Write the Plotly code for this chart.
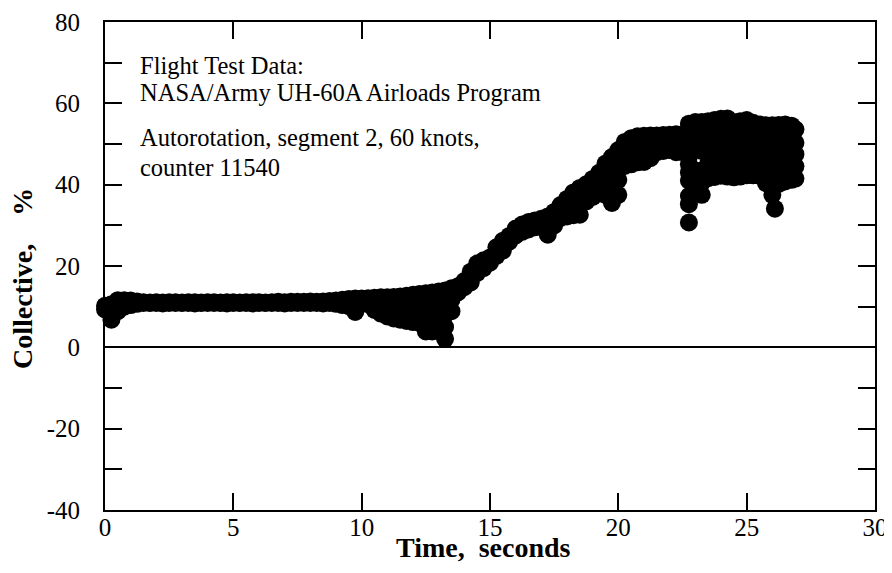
import plotly.graph_objects as go

# ---------------- data ----------------
time_s = [
    0.0, 0.25, 0.5, 0.75, 1.0, 1.25, 1.5, 1.75,
    2.0, 2.25, 2.5, 2.75, 3.0, 3.25, 3.5, 3.75,
    4.0, 4.25, 4.5, 4.75, 5.0, 5.25, 5.5, 5.75,
    6.0, 6.25, 6.5, 6.75, 7.0, 7.25, 7.5, 7.75,
    8.0, 8.25, 8.5, 8.75, 9.0, 9.25, 9.5, 9.75,
    10.0, 10.25, 10.5, 10.75, 11.0, 11.25, 11.5, 11.75,
    12.0, 12.25, 12.5, 12.75, 13.0, 13.25, 13.5, 13.75,
    14.0, 14.25, 14.5, 14.75, 15.0, 15.25, 15.5, 15.75,
    16.0, 16.25, 16.5, 16.75, 17.0, 17.25, 17.5, 17.75,
    18.0, 18.25, 18.5, 18.75, 19.0, 19.25, 19.5, 19.75,
    20.0, 20.25, 20.5, 20.75, 21.0, 21.25, 21.5, 21.75,
    22.0, 22.25, 22.5, 22.75, 23.0, 23.25, 23.5, 23.75,
    24.0, 24.25, 24.5, 24.75, 25.0, 25.25, 25.5, 25.75,
    26.0, 26.25, 26.5, 26.75, 26.9,
]

collective_upper = [
    10.2, 10.6, 11.6, 11.6, 11.5, 11.3, 11.1, 11.0,
    11.1, 11.0, 11.1, 11.1, 11.0, 11.1, 11.1, 11.0,
    11.1, 11.1, 11.0, 11.1, 11.1, 11.0, 11.1, 11.1,
    11.1, 11.0, 11.1, 11.2, 11.1, 11.2, 11.2, 11.2,
    11.3, 11.2, 11.3, 11.4, 11.5, 11.7, 11.9, 12.0,
    12.0, 12.1, 12.2, 12.3, 12.3, 12.4, 12.5, 12.7,
    12.9, 13.1, 13.3, 13.5, 13.7, 14.0, 14.5, 15.0,
    16.3, 18.6, 20.6, 21.4, 22.1, 24.6, 26.2, 27.4,
    29.2, 30.2, 30.8, 31.2, 31.6, 32.2, 33.3, 35.0,
    36.5, 38.1, 39.2, 40.1, 41.4, 42.9, 45.2, 46.8,
    48.5, 50.5, 51.4, 51.9, 52.0, 52.1, 52.1, 52.2,
    52.3, 52.4, 52.4, 55.0, 55.4, 55.4, 55.6, 55.9,
    56.2, 56.3, 55.4, 55.6, 55.9, 55.2, 54.8, 54.6,
    54.6, 54.7, 54.8, 54.5, 53.6,
]

collective_upper_mid = [
    None, None, None, None, None, None, None, None,
    None, None, None, None, None, None, None, None,
    None, None, None, None, None, None, None, None,
    None, None, None, None, None, None, None, None,
    None, None, None, None, None, None, None, None,
    None, None, None, None, None, None, None, None,
    None, None, 10.3, 10.5, 10.6, 11.0, None, None,
    None, None, None, None, None, None, None, None,
    None, None, None, None, None, None, None, None,
    None, None, None, None, None, None, None, 43.0,
    44.8, None, None, None, None, None, None, None,
    None, None, None, 51.0, 52.0, 51.9, 52.2, 52.4,
    52.6, 52.7, 52.0, 52.2, 52.5, 51.9, 51.6, 51.1,
    51.1, 51.0, 51.3, 51.0, 50.3,
]

collective_center = [
    None, 8.7, 10.2, None, None, None, None, None,
    None, None, None, None, None, None, None, None,
    None, None, None, None, None, None, None, None,
    None, None, None, None, None, None, None, None,
    None, None, None, None, None, None, None, 10.4,
    None, None, 10.7, 10.3, 10.0, 9.8, 9.6, 9.6,
    9.6, 9.5, None, None, None, 8.0, 11.7, None,
    None, None, None, None, None, None, None, None,
    None, None, None, None, None, 30.0, None, None,
    34.3, 35.3, 35.9, 38.0, 39.2, 40.3, 41.3, None,
    None, 47.5, 48.2, 48.7, 48.8, 49.3, 50.0, 50.2,
    50.4, 50.2, 50.2, 47.0, 48.6, 48.3, 48.7, 48.9,
    49.0, 49.2, 48.6, 48.8, 49.1, 48.8, 48.5, 47.5,
    47.5, 47.4, 47.8, 47.9, 47.5,
]

collective_lower_mid = [
    None, None, None, None, None, None, None, None,
    None, None, None, None, None, None, None, None,
    None, None, None, None, None, None, None, None,
    None, None, None, None, None, None, None, None,
    None, None, None, None, None, None, None, None,
    None, None, None, None, None, None, None, None,
    None, None, 7.0, 7.1, 7.2, 5.0, None, None,
    None, None, None, None, None, None, None, None,
    None, None, None, None, None, None, None, None,
    None, None, None, None, None, None, None, 39.2,
    41.2, None, None, None, None, None, None, None,
    None, None, None, 43.0, 43.5, 43.5, 45.2, 45.4,
    45.6, 45.5, 45.2, 45.4, 45.7, 45.5, 45.3, 43.9,
    43.9, 43.8, 44.3, 44.6, 44.5,
]

collective_lower = [
    9.3, 6.8, 8.9, 10.0, 10.4, 10.7, 10.9, 10.9,
    10.9, 10.8, 10.9, 10.9, 10.9, 10.9, 10.8, 10.9,
    10.9, 10.9, 10.9, 10.8, 10.9, 10.9, 10.9, 10.8,
    10.9, 10.9, 10.9, 10.9, 10.8, 10.9, 10.9, 10.9,
    10.9, 10.9, 10.8, 10.9, 10.7, 10.4, 10.1, 8.7,
    10.9, 10.6, 9.2, 8.3, 7.6, 7.1, 6.8, 6.5,
    6.2, 6.0, 3.9, 3.9, 4.0, 2.1, 8.9, 13.5,
    14.8, 16.0, 18.3, 19.5, 20.8, 22.5, 23.8, 26.0,
    27.5, 28.4, 29.0, 29.5, 29.8, 27.7, 30.0, 31.8,
    32.2, 32.5, 32.6, 35.9, 37.0, 37.8, 37.5, 35.5,
    37.5, 44.6, 45.0, 45.5, 45.6, 46.5, 48.0, 48.3,
    48.5, 48.0, 48.0, 35.2, 39.5, 37.5, 41.6, 41.9,
    42.2, 42.0, 41.8, 42.0, 42.3, 42.3, 42.2, 40.4,
    40.4, 40.2, 40.8, 41.2, 41.5,
]

# extra readings in the two dropout columns (22.75 s and 26 s)
extra_time_s = [22.75, 22.75, 22.75, 22.75, 23.25, 26.0, 26.1]
extra_collective = [45.0, 41.0, 37.2, 30.7, 40.5, 37.5, 34.1]

x_tick_vals = [0, 5, 10, 15, 20, 25, 30]
y_tick_vals = [-40, -30, -20, -10, 0, 10, 20, 30, 40, 50, 60, 70, 80]
y_tick_text = ["-40", "", "-20", "", "0", "", "20", "", "40", "", "60", "", "80"]

# ---------------- figure ----------------
SERIF = "Liberation Serif, Times New Roman, serif"
fig = go.Figure()

marker_style = dict(size=18, color="black", line=dict(width=0))
for series in [collective_upper, collective_upper_mid, collective_center,
               collective_lower_mid, collective_lower]:
    fig.add_trace(go.Scatter(x=time_s, y=series, mode="markers",
                             marker=marker_style, cliponaxis=False,
                             showlegend=False, hoverinfo="x+y"))
fig.add_trace(go.Scatter(x=extra_time_s, y=extra_collective, mode="markers",
                         marker=marker_style, cliponaxis=False,
                         showlegend=False, hoverinfo="x+y"))

axis_common = dict(
    showgrid=False, showline=True, linecolor="black", linewidth=2,
    mirror="ticks", ticks="inside", ticklen=17, tickwidth=1.5,
    tickcolor="black", tickfont=dict(family=SERIF, size=25, color="black"),
    automargin=False,
)

fig.update_xaxes(range=[0, 30], tickvals=x_tick_vals, zeroline=False,
                 ticklabelstandoff=-6, **axis_common)
fig.update_yaxes(range=[-40, 80], tickvals=y_tick_vals, ticktext=y_tick_text,
                 zeroline=True, zerolinecolor="black", zerolinewidth=2,
                 ticklabelstandoff=18, **axis_common)

text_font = dict(family=SERIF, size=24.5, color="black")
notes = [
    ("Flight Test Data:", 69.3),
    ("NASA/Army UH-60A Airloads Program", 62.6),
    ("Autorotation, segment 2, 60 knots,", 51.5),
    ("counter 11540", 44.3),
]
for txt, yv in notes:
    fig.add_annotation(x=1.3, y=yv, xref="x", yref="y", text=txt,
                       showarrow=False, xanchor="left", yanchor="middle",
                       font=text_font)

# the page body adds an 8 px offset at top-left, so the figure is 8 px
# smaller and the left/top margins are reduced by 8 px to keep the plot area
# at x 105-875, y 22-510 in the window
W, H = 884, 565
ML, MR, MT, MB = 97, 17, 14, 63
PW, PH = W - ML - MR, H - MT - MB

title_font = dict(family=SERIF, size=28, color="black")
fig.add_annotation(x=(483 - 105) / PW, y=(510 - 547) / PH, xref="paper", yref="paper",
                   text="<b>Time,\u00a0\u00a0seconds</b>", showarrow=False,
                   xanchor="center", yanchor="middle", font=title_font)
fig.add_annotation(x=(22 - 105) / PW, y=(510 - 279) / PH, xref="paper", yref="paper",
                   text="<b>Collective,\u00a0\u00a0\u00a0\u00a0%</b>", showarrow=False,
                   textangle=-90, xanchor="center", yanchor="middle", font=title_font)

fig.update_layout(
    width=W, height=H,
    margin=dict(l=ML, r=MR, t=MT, b=MB),
    paper_bgcolor="white", plot_bgcolor="white",
    showlegend=False,
)

fig.write_html("out.html")
